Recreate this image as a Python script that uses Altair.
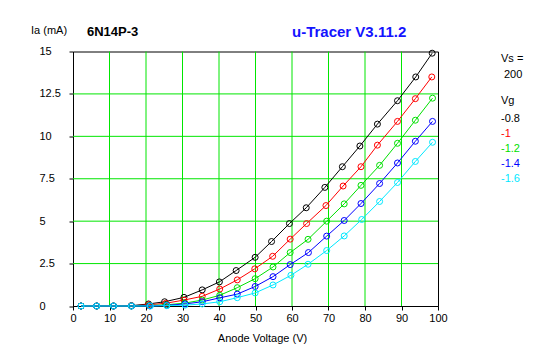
import altair as alt
import pandas as pd

# ---- data ----
vg_labels = ["-0.8", "-1", "-1.2", "-1.4", "-1.6"]
series_colors = ["#000000", "#ff0000", "#00e000", "#0000ff", "#00e8ff"]

va_m08 = [2.2, 6.5, 11.1, 16.0, 20.7, 25.1, 30.4, 35.4, 40.1, 44.7, 49.9, 54.4, 59.3, 63.9, 69.0, 73.8, 78.6, 83.4, 88.9, 93.9, 98.4]
ia_m08 = [0, 0, 0, 0.02, 0.12, 0.25, 0.51, 0.95, 1.42, 2.09, 2.87, 3.80, 4.86, 5.79, 6.99, 8.21, 9.43, 10.72, 12.1, 13.5, 14.9]

va_m10 = [2.2, 6.5, 11.1, 16.0, 20.7, 25.4, 30.4, 35.4, 40.2, 45.0, 49.8, 54.7, 59.5, 64.0, 69.3, 74.0, 78.9, 83.4, 88.9, 93.8, 98.3]
ia_m10 = [0, 0, 0, 0.01, 0.07, 0.16, 0.35, 0.57, 1.0, 1.54, 2.19, 2.93, 3.94, 4.86, 5.92, 7.07, 8.21, 9.48, 10.88, 12.22, 13.5]

va_m12 = [2.2, 6.5, 11.1, 16.0, 20.9, 25.6, 30.6, 35.4, 40.2, 45.0, 49.9, 54.8, 59.5, 64.4, 69.5, 74.3, 78.9, 84.0, 88.9, 93.8, 98.5]
ia_m12 = [0, 0, 0, 0, 0.03, 0.07, 0.17, 0.35, 0.63, 1.08, 1.61, 2.30, 3.15, 3.93, 5.0, 6.02, 7.11, 8.29, 9.59, 10.95, 12.25]

va_m14 = [2.2, 6.5, 11.1, 16.0, 21.0, 25.7, 30.7, 35.4, 40.2, 45.0, 49.9, 54.8, 59.5, 64.5, 69.5, 74.3, 78.9, 84.0, 88.9, 93.8, 98.5]
ia_m14 = [0, 0, 0, 0, 0.01, 0.04, 0.12, 0.25, 0.48, 0.70, 1.15, 1.73, 2.44, 3.15, 4.12, 5.04, 6.04, 7.22, 8.43, 9.71, 10.88]

va_m16 = [2.2, 6.5, 11.1, 16.0, 21.2, 25.7, 30.7, 35.4, 40.2, 45.0, 49.9, 54.8, 59.7, 64.4, 69.5, 74.3, 79.1, 84.0, 88.9, 93.8, 98.5]
ia_m16 = [0, 0, 0, 0, 0, 0.02, 0.05, 0.12, 0.25, 0.49, 0.77, 1.24, 1.81, 2.46, 3.27, 4.13, 5.1, 6.16, 7.28, 8.52, 9.65]

x_ticks = [0, 10, 20, 30, 40, 50, 60, 70, 80, 90, 100]
y_ticks = [0, 2.5, 5, 7.5, 10, 12.5, 15]

tube_name = "6N14P-3"
tracer_name = "u-Tracer V3.11.2"
y_title = "Ia (mA)"
x_title = "Anode Voltage (V)"
vs_title = "Vs ="
vs_value = "200"
vg_title = "Vg"

all_va = [va_m08, va_m10, va_m12, va_m14, va_m16]
all_ia = [ia_m08, ia_m10, ia_m12, ia_m14, ia_m16]

FONT = "Liberation Sans"
W, H = 365, 254.5
GRID = "#00e600"

xs = alt.Scale(domain=[0, 100], nice=False, zero=False)
ys = alt.Scale(domain=[0, 15], nice=False, zero=False)

frames = []
for k in range(5):
    frames.append(pd.DataFrame({"Va": all_va[k], "Ia": all_ia[k], "Vg": vg_labels[k]}))

xaxis = alt.Axis(values=x_ticks, title=x_title, grid=False, tickSize=4, labelPadding=2,
                 labelOverlap=False, labelFlush=False,
                 labelFontSize=11, labelFont=FONT, labelColor="black", tickColor="black",
                 domainColor="black", titleFont=FONT, titleFontSize=11, titleFontWeight="normal",
                 titleColor="black", titleX=189, titleY=32, titleBaseline="middle", titleAnchor="middle")
yaxis = alt.Axis(values=y_ticks, title=None, grid=False, tickSize=4, labelPadding=30,
                 labelOverlap=False, labelFlush=False,
                 labelAlign="left", labelBaseline="middle", labelExpr="toString(datum.value)",
                 labelFontSize=11, labelFont=FONT, labelColor="black", tickColor="black",
                 domainColor="black")

layers = []

gx = pd.DataFrame({"v": x_ticks[1:-1]})
gy = pd.DataFrame({"v": y_ticks[1:-1]})
layers.append(alt.Chart(gx).mark_rule(color=GRID, strokeWidth=1).encode(
    x=alt.X("v:Q", scale=xs, axis=xaxis)))
layers.append(alt.Chart(gy).mark_rule(color=GRID, strokeWidth=1).encode(
    y=alt.Y("v:Q", scale=ys, axis=yaxis)))

for k in range(5):
    d = frames[k]
    layers.append(alt.Chart(d).mark_line(color=series_colors[k], strokeWidth=1).encode(
        x=alt.X("Va:Q", scale=xs, axis=xaxis), y=alt.Y("Ia:Q", scale=ys, axis=yaxis)))
    layers.append(alt.Chart(d).mark_point(shape="circle", filled=False, size=36,
                                          color=series_colors[k], strokeWidth=1, opacity=1).encode(
        x=alt.X("Va:Q", scale=xs, axis=xaxis), y=alt.Y("Ia:Q", scale=ys, axis=yaxis)))

def txt(s, x, y, color="black", size=11, bold=False, align="left"):
    return alt.Chart(pd.DataFrame({"t": [s]})).mark_text(
        align=align, baseline="middle", font=FONT, fontSize=size,
        fontWeight="bold" if bold else "normal", color=color).encode(
        text="t:N", x=alt.value(x), y=alt.value(y))

layers.append(txt(y_title, -42, -20.5))
layers.append(txt(tube_name, 14, -19.5, size=13, bold=True))
layers.append(txt(tracer_name, 219, -19.5, color="#1414ff", size=15, bold=True))
layers.append(txt(vs_title, 428, 7))
layers.append(txt(vs_value, 431, 23))
layers.append(txt(vg_title, 428, 49.5))
for k in range(5):
    layers.append(txt(vg_labels[k], 428, 67.5 + 15 * k, color=series_colors[k]))

chart = alt.layer(*layers).properties(
    width=W, height=H,
    autosize=alt.AutoSizeParams(type="none"),
    padding={"left": 65, "top": 43.5, "right": 100, "bottom": 40},
    background="white",
).configure_view(stroke="black", strokeWidth=1).configure_axis(labelOverlap=False, labelFlush=False)

chart.save("out.html", embed_options={"renderer": "svg", "actions": False})
